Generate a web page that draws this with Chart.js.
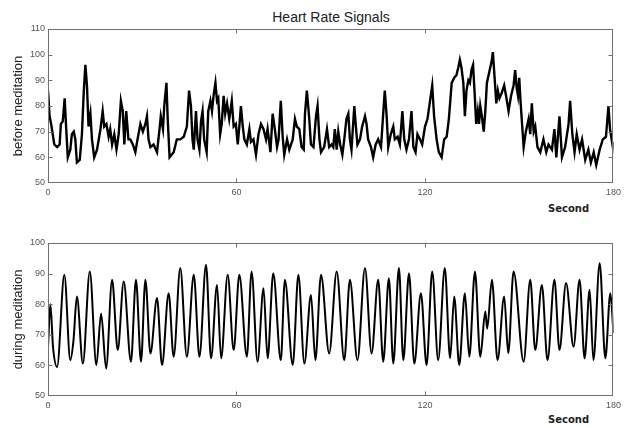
<!DOCTYPE html>
<html>
<head>
<meta charset="utf-8">
<script src="https://cdn.jsdelivr.net/npm/chart.js@4"></script>
<style>
  body { margin: 0; background: #fff; width: 625px; height: 428px; position: relative; overflow: hidden; font-family: "Liberation Sans", Arial, sans-serif; }
  canvas { position: absolute; left: 0; }
  #title { position: absolute; left: 48px; width: 566px; top: 9px; line-height: 16px; text-align: center; font-size: 14px; color: #222; }
  .sec { position: absolute; left: 548px; font: bold 10px "DejaVu Sans", sans-serif; color: #222; }
</style>
</head>
<body>
<div id="title">Heart Rate Signals</div>
<canvas id="before" width="625" height="200" style="top:0"></canvas>
<div class="sec" style="top:203px">Second</div>
<canvas id="during" width="625" height="200" style="top:214px"></canvas>
<div class="sec" style="top:414px">Second</div>
<script>
// before meditation: seconds and heart rate (bpm)
var beforeSec = [
  0, 0.5, 1, 2, 2.9, 3.7, 4.1, 4.7, 5.3, 5.8,
  6.3, 7.1, 7.6, 8.2, 8.7, 9.2, 10.1, 10.8, 11.4, 11.9,
  12.4, 12.9, 13.5, 14, 14.7, 15.6, 16.7, 17.4, 17.9, 18.6,
  19.3, 19.8, 20.4, 21.1, 21.8, 22.5, 23.2, 23.8, 24.3, 24.9,
  25.6, 26.2, 27, 27.8, 28.5, 29.4, 30.2, 31, 31.5, 32,
  32.6, 33.6, 34.7, 35.5, 35.9, 36.6, 37, 37.7, 38.1, 38.7,
  40, 41, 42.1, 43.2, 44.2, 44.9,
  45.5, 46, 46.4, 47.1, 47.6, 48.2, 48.7, 49.2, 49.7, 50.5,
  51, 51.7, 52.2, 52.7, 53.3, 53.8, 54.2, 54.8, 55.3, 55.9,
  56.4, 57, 57.7, 58.5, 59.1, 59.8, 60.4, 60.9, 61.4, 62,
  62.5, 63.3, 64.1, 64.6, 65.4, 66.2, 67, 67.8, 68.6, 69.4,
  69.9, 70.8, 71.5, 72.2, 72.9, 73.4, 74.1, 74.7, 75.2, 76.1,
  76.8, 77.9, 78.6, 79.2, 80, 80.7, 81.4, 81.8, 82.4, 83.1,
  83.7, 84.5, 85.3, 85.8, 86.4, 86.9, 87.9, 88.8, 89.5, 90.3,
  90.8, 91.3, 91.9, 92.4, 93, 93.7, 94.3, 95, 95.6, 96.1,
  96.6, 97.5, 98, 98.5, 99.3, 100, 100.9, 101.4, 101.9, 102.8,
  103.5, 104.3, 105.1, 106, 106.7, 107.2, 107.8, 108.3, 109.1, 109.9,
  110.4, 111.3, 112, 112.8, 113.4, 114.1, 114.9, 115.7, 116.3, 117,
  117.6, 118.4, 119.1, 120, 120.8, 121.6, 122.3, 122.9, 123.7, 124.4,
  125.3, 126.1, 126.9, 127.6, 128.5, 129.3, 130, 130.6, 131.1, 131.6,
  132.2, 132.7, 133.2, 133.8, 134.3, 134.8, 135.3, 135.8, 136.3,
  136.8, 137.2, 137.6, 138.1, 138.7, 139.2, 139.7, 140.6, 141.3, 141.6,
  142.1, 142.7, 143.2, 143.7, 144.4, 145.2, 145.8, 146.6, 147.4, 148.2,
  148.7, 149.2, 149.6, 150, 150.4, 150.9, 151.4, 152.1, 153, 153.5,
  154, 154.6, 155.1, 155.8, 156.7, 157.7, 158.6, 159.3, 160.4, 161.2,
  161.8, 162.8, 163.6, 164.6, 165.7, 166.2, 166.9, 167.6, 168.3, 169.2,
  170, 171, 172, 172.8, 173.7, 174.5, 175.6, 176.6, 177.6, 178.4,
  178.9, 179.8, 180
];
var beforeBpm = [
  86, 76, 73, 65, 64, 65, 73, 74, 83, 71,
  60, 63, 69, 70, 67, 58, 59, 69, 86, 96,
  88, 72, 77, 67, 60, 63, 71, 78, 72, 73,
  68, 71, 65, 69, 63, 69, 82, 78, 65, 78,
  67, 67, 65, 62, 67, 73, 70, 73, 76, 67,
  64, 65, 62, 71, 76, 71, 80, 89, 75, 60,
  62, 67, 67, 68, 72, 86,
  80, 67, 63, 78, 67, 63, 74, 78, 67, 62,
  78, 82, 78, 84, 89, 82, 83, 69, 73, 84,
  77, 81, 75, 82, 72, 73, 65, 72, 80, 72,
  67, 65, 71, 66, 67, 61, 69, 73, 71, 67,
  71, 62, 77, 71, 64, 67, 82, 68, 61, 67,
  63, 67, 75, 72, 71, 64, 63, 77, 86, 76,
  65, 64, 76, 80, 67, 62, 64, 71, 64, 65,
  64, 71, 63, 70, 65, 61, 67, 75, 77, 67,
  63, 80, 72, 65, 67, 72, 76, 73, 67, 64,
  60, 65, 67, 64, 77, 86, 76, 64, 69, 72,
  67, 68, 65, 78, 67, 63, 67, 78, 64, 62,
  69, 67, 65, 72, 75, 82, 88, 76, 67, 62,
  60, 67, 68, 75, 89, 91, 92, 95, 98, 95,
  89, 76, 86, 90, 89, 94, 96, 85, 73,
  78, 73, 80, 76, 70, 78, 89, 94, 98, 101,
  92, 81, 86, 83, 85, 88, 84, 78, 84, 88,
  94, 87, 84, 91, 82, 73, 64, 70, 75, 69,
  81, 70, 72, 64, 62, 67, 62, 65, 63, 71,
  60, 76, 60, 64, 73, 82, 69, 62, 69, 63,
  67, 59, 63, 58, 62, 57, 63, 67, 68, 80,
  71, 64, 66
];

// during meditation: peaks and troughs of the breathing wave
var duringSec = [
  0, 0.75, 1.6, 2.9, 5.2, 7.1, 8.1, 9.2, 11.1, 13.3,
  15.4, 16.9, 18.5, 20.4, 22.2, 24.1, 26.4, 28, 29.6, 31,
  32.6, 34.7, 36.3, 38.4, 40, 42.1, 44.2, 46.4, 48.2, 50.3,
  51.9, 53.8, 55.1, 57.2, 59.1, 60.9, 63.3, 64.8, 66.7, 68.6,
  69.9, 71.7, 74.1, 75.4, 77.9, 79.7, 81.6, 83.7, 85.1, 86.9,
  89.5, 91.9, 94.3, 96.1, 98.5, 100.9, 103, 105.1, 106.7, 108.5,
  109.9, 111.7, 113.1, 114.9, 116.6, 118.7, 120.5, 122.3, 124.2, 126.3,
  128, 129.3, 130.9, 132.7, 134.1, 135.9, 137.6, 139.2, 139.8, 141.3,
  143.1, 145.2, 146.5, 148.2, 151.4, 153.5, 155.1, 157.2, 159, 161.2,
  162.8, 164.9, 167.3, 169.2, 170.8, 172.4, 173.6, 175.6, 177.4, 179,
  180
];
var duringBpm = [
  66, 80, 66, 59.5, 89.6, 61.7, 68, 82.5, 60.6, 90.7,
  60.1, 77, 59, 88, 65, 87.4, 61.2, 88, 61.2, 88,
  63.9, 82, 60.1, 83.6, 62.8, 91.8, 62.8, 89.6, 62.8, 92.9,
  62.3, 86.3, 62.3, 89.6, 65, 89.6, 62.8, 90.7, 61.2, 85.2,
  62.3, 90.1, 61.7, 88, 60.1, 89.6, 60.6, 83, 61.7, 89.6,
  63.9, 90.7, 61.7, 88, 61.7, 91.8, 63.9, 88, 61.2, 88.5,
  60.6, 91.8, 61.7, 90.1, 60.6, 83.6, 60.1, 90.7, 61.7, 91.8,
  62.3, 82.5, 60.1, 83.6, 62.8, 90.7, 62.8, 77.6, 72, 88,
  61.7, 82.5, 64, 90.7, 61.2, 88, 65, 86.3, 61.7, 88,
  65, 86.9, 66.1, 88, 62.3, 84.7, 61.7, 93.4, 62.3, 83.6,
  70.5
];

var xTicks = [0, 60, 120, 180];

// box round the plot with short inward ticks, matlab style
var framePlugin = {
  id: 'frame',
  afterDraw: function(chart) {
    var ctx = chart.ctx, a = chart.chartArea;
    var xs = chart.scales.x, ys = chart.scales.y;
    var l = Math.round(a.left) + 0.5, r = Math.round(a.right) - 0.5;
    var t = Math.round(a.top) + 0.5, b = Math.round(a.bottom) - 0.5;
    ctx.save();
    ctx.strokeStyle = '#707070';
    ctx.lineWidth = 1;
    ctx.strokeRect(l, t, r - l, b - t);
    ctx.beginPath();
    xs.ticks.forEach(function(tk) {
      if (tk.value <= xs.min || tk.value >= xs.max) return;
      var px = Math.round(xs.getPixelForValue(tk.value)) + 0.5;
      ctx.moveTo(px, t); ctx.lineTo(px, t + 4);
      ctx.moveTo(px, b); ctx.lineTo(px, b - 4);
    });
    ys.ticks.forEach(function(tk) {
      if (tk.value <= ys.min || tk.value >= ys.max) return;
      var py = Math.round(ys.getPixelForValue(tk.value)) + 0.5;
      ctx.moveTo(l, py); ctx.lineTo(l + 4, py);
      ctx.moveTo(r, py); ctx.lineTo(r - 4, py);
    });
    ctx.stroke();
    ctx.restore();
  }
};

function makeChart(id, secs, bpm, yMin, yMax, label, xHeight, smooth, lineW) {
  return new Chart(document.getElementById(id), {
    type: 'line',
    data: {
      datasets: [{
        data: secs.map(function(s, i) { return { x: s, y: bpm[i] }; }),
        borderColor: '#000',
        borderWidth: lineW,
        pointRadius: 0,
        tension: 0,
        cubicInterpolationMode: smooth ? 'monotone' : 'default'
      }]
    },
    options: {
      responsive: false,
      animation: false,
      devicePixelRatio: 1,
      layout: { padding: { top: 29, right: 11, left: 0, bottom: 0 } },
      plugins: { legend: { display: false }, tooltip: { enabled: false } },
      scales: {
        x: {
          type: 'linear', min: 0, max: 180,
          grid: { display: false, drawTicks: false },
          border: { display: false },
          afterBuildTicks: function(s) { s.ticks = xTicks.map(function(v) { return { value: v }; }); },
          ticks: { padding: 4, color: '#555', font: { size: 9, family: 'Liberation Sans' }, maxRotation: 0 },
          afterFit: function(s) { s.height = xHeight; }
        },
        y: {
          min: yMin, max: yMax,
          grid: { display: false, drawTicks: false },
          border: { display: false },
          ticks: { stepSize: 10, padding: 3, color: '#555', font: { size: 9, family: 'Liberation Sans' } },
          title: { display: true, text: label, color: '#222', font: { size: 13, family: 'Liberation Sans' }, padding: { top: 11, bottom: 0 } },
          afterFit: function(s) { s.width = 48; }
        }
      }
    },
    plugins: [framePlugin]
  });
}

makeChart('before', beforeSec, beforeBpm, 50, 110, 'before meditation', 17, false, 2.4);
makeChart('during', duringSec, duringBpm, 50, 100, 'during meditation', 18, true, 2);
</script>
</body>
</html>
